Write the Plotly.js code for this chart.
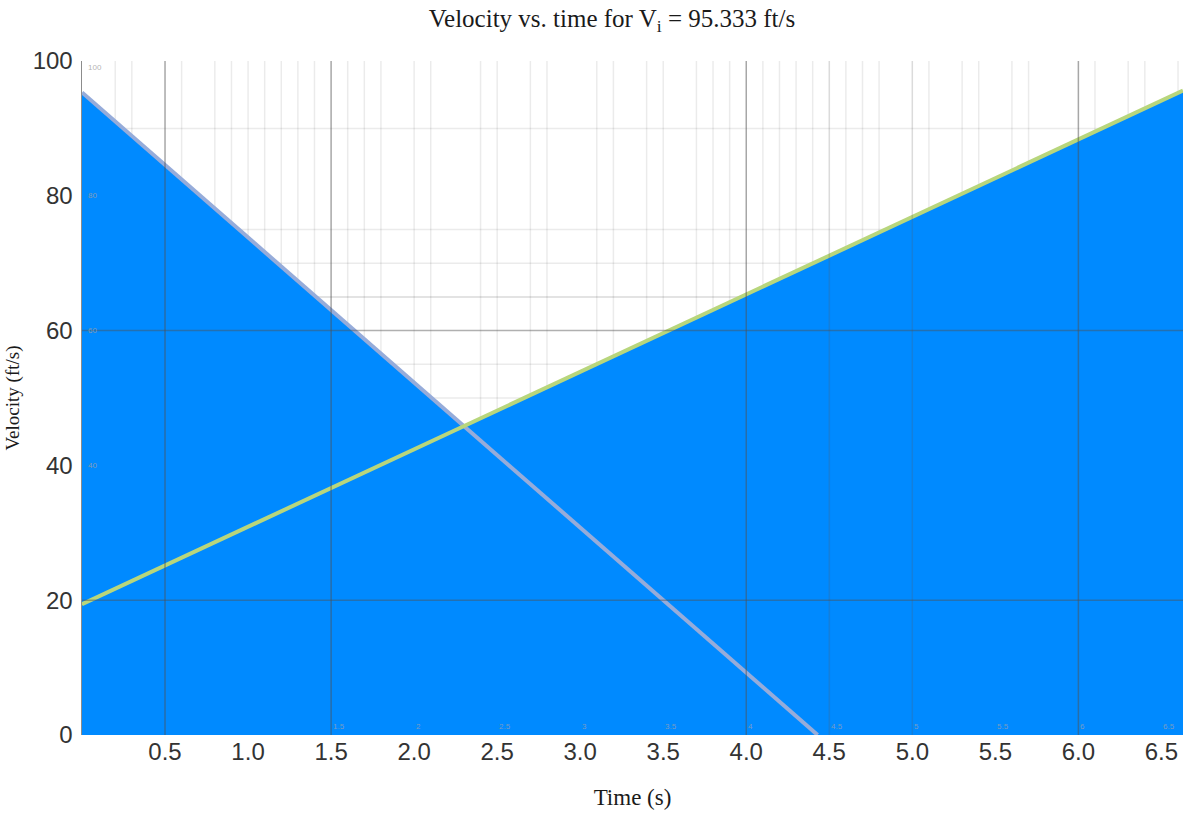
<!DOCTYPE html>
<html>
<head>
<meta charset="utf-8">
<script src="https://cdn.plot.ly/plotly-3.0.1.min.js"></script>
<style>html,body{margin:0;padding:0;background:#fff;}#chart{width:1186px;height:814px;}</style>
</head>
<body>
<div id="chart"></div>
<script>
// Data
const fallTime = [0, 1.5, 2.3, 4.0, 4.43];
const fallVelocity = [95.333, 63.1, 45.8, 9.3, 0];
const riseTime = [0, 2.3, 4.0, 6.0, 6.63];
const riseVelocity = [19.4, 45.8, 65.4, 88.3, 95.6];

const xTickVals = [0.5, 1.0, 1.5, 2.0, 2.5, 3.0, 3.5, 4.0, 4.5, 5.0, 5.5, 6.0, 6.5];
const xTickText = ['0.5', '1.0', '1.5', '2.0', '2.5', '3.0', '3.5', '4.0', '4.5', '5.0', '5.5', '6.0', '6.5'];
const yTickVals = [0, 20, 40, 60, 80, 100];

// Grid positions seen in the reference
const vGridLight = [0.2,0.3,0.6,0.8,0.9,1.0,1.1,1.2,1.3,1.4,1.6,1.7,1.8,2.0,2.1,2.4,2.5,2.7,2.8,3.1,3.2,3.4,3.5,3.7,3.8,3.9,4.1,4.2,4.3,4.4,4.6,4.7,4.8,5.1,5.3,5.4,5.6,5.7,6.1,6.3,6.4,6.6];
const vGridMedium = [4.5, 5.0];
const vGridDark = [0.5, 1.5, 4.0, 6.0];
const hGridLight = [45, 50, 55, 70, 75, 90];
const hGridMedium = [65];
const hGridDark = [20, 60];

// faint ghost labels inside the plot
const ghostYVals = [100, 80, 60, 40];
const ghostXVals = [1.5, 2, 2.5, 3, 3.5, 4, 4.5, 5, 5.5, 6, 6.5];

const fillColor = 'rgb(0,138,255)';

const traces = [
  {x: fallTime, y: fallVelocity, type: 'scatter', mode: 'lines', fill: 'tozeroy',
   fillcolor: fillColor, line: {width: 0, color: fillColor}, hoverinfo: 'skip', showlegend: false},
  {x: riseTime, y: riseVelocity, type: 'scatter', mode: 'lines', fill: 'tozeroy',
   fillcolor: fillColor, line: {width: 0, color: fillColor}, hoverinfo: 'skip', showlegend: false},
  {x: fallTime, y: fallVelocity, type: 'scatter', mode: 'lines',
   line: {width: 4, color: 'rgb(150,172,218)'}, showlegend: false},
  {x: riseTime, y: riseVelocity, type: 'scatter', mode: 'lines',
   line: {width: 4, color: 'rgb(184,214,124)'}, showlegend: false}
];

const shapes = [];
vGridLight.forEach(v => shapes.push({type: 'line', xref: 'x', yref: 'paper', x0: v, x1: v, y0: 0, y1: 1,
  line: {color: 'rgba(0,0,0,0.08)', width: 1.5}, layer: 'below'}));
vGridMedium.forEach(v => shapes.push({type: 'line', xref: 'x', yref: 'paper', x0: v, x1: v, y0: 0, y1: 1,
  line: {color: 'rgba(90,90,90,0.22)', width: 1.5}, layer: 'above'}));
vGridDark.forEach(v => shapes.push({type: 'line', xref: 'x', yref: 'paper', x0: v, x1: v, y0: 0, y1: 1,
  line: {color: 'rgba(80,80,80,0.5)', width: 1.5}, layer: 'above'}));
hGridLight.forEach(v => shapes.push({type: 'line', xref: 'paper', yref: 'y', x0: 0, x1: 1, y0: v, y1: v,
  line: {color: 'rgba(0,0,0,0.08)', width: 1.5}, layer: 'below'}));
hGridMedium.forEach(v => shapes.push({type: 'line', xref: 'paper', yref: 'y', x0: 0, x1: 1, y0: v, y1: v,
  line: {color: 'rgba(0,0,0,0.15)', width: 1.5}, layer: 'below'}));
hGridDark.forEach(v => shapes.push({type: 'line', xref: 'paper', yref: 'y', x0: 0, x1: 1, y0: v, y1: v,
  line: {color: 'rgba(80,80,80,0.45)', width: 1.5}, layer: 'above'}));

const annotations = [];
ghostYVals.forEach(v => annotations.push({xref: 'paper', yref: 'y', x: 0.004, y: v, text: String(v),
  showarrow: false, xanchor: 'left', yanchor: v === 100 ? 'top' : 'middle',
  font: {family: 'Liberation Sans, Arial, sans-serif', size: 8, color: 'rgba(160,160,160,0.8)'}}));
ghostXVals.forEach(v => annotations.push({xref: 'x', yref: 'paper', x: v, y: 0.003, text: String(v),
  showarrow: false, xanchor: 'left', yanchor: 'bottom',
  font: {family: 'Liberation Sans, Arial, sans-serif', size: 8, color: 'rgba(150,160,180,0.8)'}}));

const layout = {
  width: 1186, height: 814,
  margin: {l: 82, r: 3, t: 61, b: 79, pad: 0},
  paper_bgcolor: '#fff', plot_bgcolor: '#fff',
  title: {text: 'Velocity vs. time for V<sub>i</sub> = 95.333 ft/s', x: 0.516, xanchor: 'center', y: 0.978, yanchor: 'middle',
    font: {family: 'Liberation Serif, Times New Roman, serif', size: 25, color: '#1a1a1a'}},
  xaxis: {range: [0, 6.63], tickvals: xTickVals, ticktext: xTickText, showgrid: false, zeroline: false,
    showline: false, ticks: '', ticklabelstandoff: 0,
    tickfont: {family: 'Liberation Sans, Arial, sans-serif', size: 24, color: '#333'},
    title: {text: 'Time (s)', standoff: 24, font: {family: 'Liberation Serif, Times New Roman, serif', size: 23, color: '#1a1a1a'}}},
  yaxis: {range: [0, 100], tickvals: yTickVals, showgrid: false, zeroline: false,
    showline: true, linecolor: 'rgba(0,0,0,0.45)', linewidth: 1.5, ticks: '', ticklabelstandoff: 3,
    tickfont: {family: 'Liberation Sans, Arial, sans-serif', size: 24, color: '#333'},
    title: {text: 'Velocity (ft/s)', standoff: 8, font: {family: 'Liberation Serif, Times New Roman, serif', size: 19, color: '#1a1a1a'}}},
  shapes: shapes,
  annotations: annotations,
  showlegend: false
};

Plotly.newPlot('chart', traces, layout, {displayModeBar: false, staticPlot: true});
</script>
</body>
</html>
